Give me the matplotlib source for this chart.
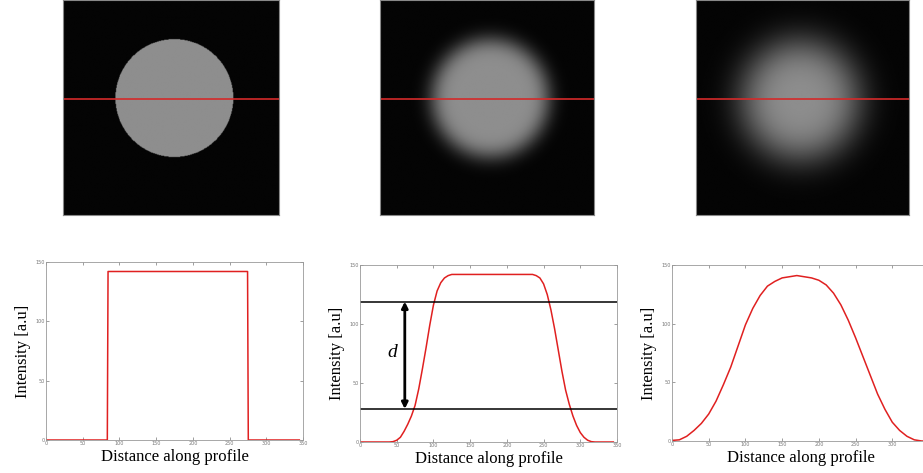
import numpy as np
import matplotlib
matplotlib.use("Agg")
import matplotlib.pyplot as plt

# profile 1: sharp disk
x1 = [0, 83.5, 84.5, 274.5, 275.5, 345]
y1 = [0, 0, 142, 142, 0, 0]

# profile 2: moderately blurred disk
x2 = [0, 40, 45, 50, 55, 60, 65, 70, 75, 80, 85, 90, 95, 100, 105, 110, 115, 120,
      125, 130, 235, 240, 245, 250, 255, 260, 265, 270, 275, 280, 285, 290, 295,
      300, 305, 310, 315, 320, 345]
y2 = [0, 0, 0.3, 1.5, 4, 9, 15, 22, 31, 45, 62, 80, 99, 116, 128, 135, 139, 141,
      142, 142, 142, 141, 139, 134, 125, 112, 96, 78, 60, 44, 32, 22, 14,
      8, 4, 1.5, 0.3, 0, 0]

# profile 3: strongly blurred disk
x3 = [0, 10, 20, 30, 40, 50, 60, 70, 80, 90, 100, 110, 120, 130, 140, 150, 160,
      170, 180, 190, 200, 210, 220, 230, 240, 250, 260, 270, 280, 290, 300, 310,
      320, 330, 340, 350]
y3 = [0.5, 1, 4, 9, 15, 23, 34, 48, 63, 81, 99, 113, 124, 132, 136, 139, 140,
      141, 140, 139, 137, 133, 126, 116, 103, 88, 72, 56, 40, 27, 16, 9,
      4, 1, 0, 0]

x_ticks = [0, 50, 100, 150, 200, 250, 300, 350]
y_ticks = [0, 50, 100, 150]

# threshold lines and arrow in panel 2
d_levels = [119, 28]
d_arrow_x = 61

# synthetic images: (centre x, centre y, radius, blur sigma) in pixels of a 350 grid
img_params = [(180, 160, 95.5, 0.0), (180, 160, 95, 15.0), (170, 163, 95, 29.0)]
img_level = 142
profile_row = 160

serif = "Liberation Serif"


def make_disk(cx, cy, r, sigma, n=350):
    yy, xx = np.mgrid[0:n, 0:n]
    img = np.where((xx - cx) ** 2 + (yy - cy) ** 2 <= r ** 2, float(img_level), 4.0)
    if sigma > 0:
        fx = np.fft.fftfreq(n)
        kx, ky = np.meshgrid(fx, fx)
        g = np.exp(-2 * (np.pi * sigma) ** 2 * (kx ** 2 + ky ** 2))
        img = np.real(np.fft.ifft2(np.fft.fft2(img) * g))
    return img


fig = plt.figure(figsize=(9.23, 4.73), dpi=100)

img_boxes = [(63, 216), (380, 214), (696, 213)]
for (left, w), p in zip(img_boxes, img_params):
    ax = fig.add_axes([left / 923, (473 - 215) / 473, w / 923, 215 / 473])
    ax.imshow(make_disk(*p), cmap="gray", vmin=0, vmax=255, aspect="auto",
              interpolation="bilinear")
    ax.axhline(profile_row, color="#d42a2a", lw=1.2)
    ax.set_xticks([])
    ax.set_yticks([])
    for s in ax.spines.values():
        s.set_color("#888888")
        s.set_linewidth(0.8)

plot_boxes = [(46, 440, 178), (360, 442, 177), (672, 441, 176)]
profiles = [(x1, y1), (x2, y2), (x3, y3)]
axes = []
for (left, bottom, h), (xs, ys) in zip(plot_boxes, profiles):
    ax = fig.add_axes([left / 923, (473 - bottom) / 473, 257 / 923, h / 473])
    ax.plot(xs, ys, color="#e02020", lw=1.1)
    ax.set_xlim(0, 350)
    ax.set_ylim(0, 150)
    ax.set_xticks(x_ticks)
    ax.set_yticks(y_ticks)
    ax.tick_params(direction="in", length=2.5, width=0.5, colors="#777777",
                   labelsize=3.5, pad=1, top=True, right=True)
    for s in ax.spines.values():
        s.set_color("#999999")
        s.set_linewidth(0.6)
    ax.set_xlabel("Distance along profile", fontsize=12, family=serif, labelpad=2)
    ax.set_ylabel("Intensity [a.u]", fontsize=12, family=serif, labelpad=3)
    axes.append(ax)

# last panel runs past the figure edge, its 350 label is not visible
axes[2].set_xticklabels([str(t) for t in x_ticks[:-1]] + [""])

ax2 = axes[1]
for lv in d_levels:
    ax2.axhline(lv, color="black", lw=1.1)
ax2.annotate("", xy=(d_arrow_x, d_levels[0]), xytext=(d_arrow_x, d_levels[1]),
             arrowprops=dict(arrowstyle="<|-|>", color="black", lw=2,
                             mutation_scale=9, shrinkA=0, shrinkB=0))
ax2.text(43.5, 76, "d", fontsize=14, family=serif, style="italic",
         ha="center", va="center")

fig.savefig("out.png", dpi=100)
